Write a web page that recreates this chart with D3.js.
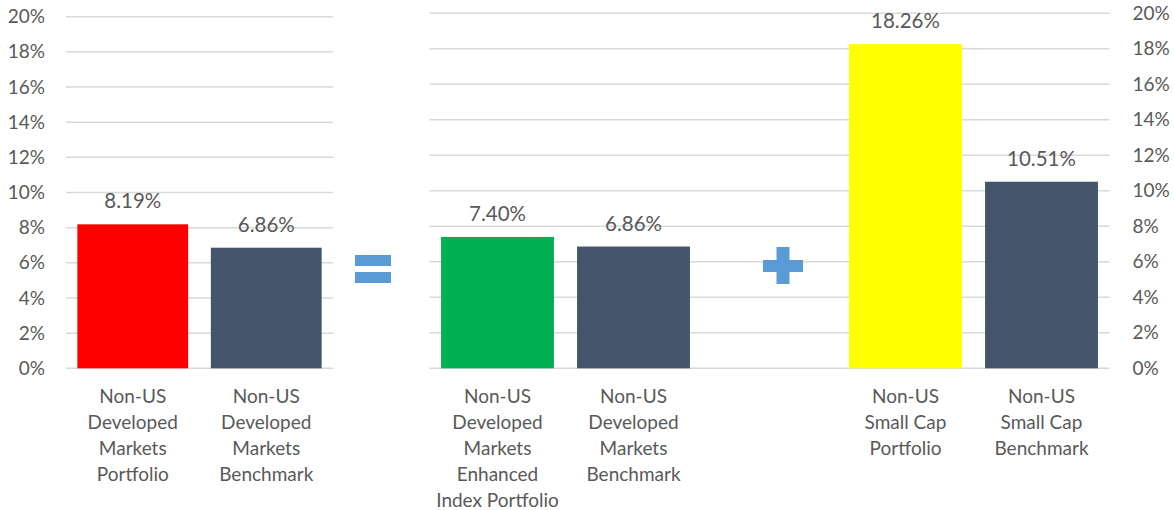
<!DOCTYPE html>
<html>
<head>
<meta charset="utf-8">
<script src="https://cdn.jsdelivr.net/npm/d3@7"></script>
<style>
  body { margin: 0; background: #fff; }
  text { font-family: Lato, "Open Sans", sans-serif; fill: #595959; }
</style>
</head>
<body>
<div class="content"></div>
<script>
// data
const leftCats = ["dmPort", "dmBench"];
const leftLabels = [
  ["Non-US", "Developed", "Markets", "Portfolio"],
  ["Non-US", "Developed", "Markets", "Benchmark"]
];
const leftValues = [8.19, 6.86];
const leftColors = ["#FF0000", "#44546A"];

const rightCats = ["enhPort", "dmBench2", "gap", "scPort", "scBench"];
const rightLabels = [
  ["Non-US", "Developed", "Markets", "Enhanced", "Index Portfolio"],
  ["Non-US", "Developed", "Markets", "Benchmark"],
  [],
  ["Non-US", "Small Cap", "Portfolio"],
  ["Non-US", "Small Cap", "Benchmark"]
];
const rightValues = [7.40, 6.86, null, 18.26, 10.51];
const rightColors = ["#00B050", "#44546A", null, "#FFFF00", "#44546A"];

const yTicks = [0, 2, 4, 6, 8, 10, 12, 14, 16, 18, 20];

const width = 1174, height = 510;
const fontSize = 19;

const svg = d3.select('.content')
  .append('svg')
  .attr('width', width)
  .attr('height', height);

function drawPanel(cats, labels, values, colors, xRange, yRange, axisSide) {
  let x = d3.scaleBand()
    .domain(cats)
    .range(xRange)
    .paddingInner(0.17)
    .paddingOuter(0.085);

  let y = d3.scaleLinear()
    .domain([0, 20])
    .range(yRange);

  // gridlines
  svg.append("g")
    .selectAll("line")
    .data(yTicks)
    .enter().append("line")
    .attr("x1", xRange[0])
    .attr("x2", xRange[1])
    .attr("y1", d => y(d))
    .attr("y2", d => y(d))
    .attr("stroke", "#d9d9d9")
    .attr("stroke-width", 1.5);

  // y axis labels
  let axis = axisSide === "left"
    ? d3.axisLeft(y).tickValues(yTicks).tickFormat(d => d + "%").tickSize(0).tickPadding(21)
    : d3.axisRight(y).tickValues(yTicks).tickFormat(d => d + "%").tickSize(0).tickPadding(23);

  svg.append("g")
    .attr("transform", `translate(${axisSide === "left" ? xRange[0] : xRange[1]},0)`)
    .call(axis)
    .call(g => g.select('.domain').remove())
    .call(g => g.selectAll('text')
      .attr("font-family", "Lato, 'Open Sans', sans-serif")
      .attr("font-size", fontSize)
      .attr("fill", "#595959"));

  let rows = cats.map((c, i) => ({ cat: c, value: values[i], color: colors[i], lines: labels[i] }));
  let bars = rows.filter(d => d.value != null);

  svg.selectAll(null)
    .data(bars)
    .enter().append("rect")
    .attr("x", d => x(d.cat))
    .attr("y", d => y(d.value))
    .attr("width", x.bandwidth())
    .attr("height", d => y(0) - y(d.value))
    .attr("fill", d => d.color);

  // value labels
  svg.selectAll(null)
    .data(bars)
    .enter().append("text")
    .attr("x", d => x(d.cat) + x.bandwidth() / 2)
    .attr("y", d => y(d.value))
    .attr("dy", -16)
    .attr("text-anchor", "middle")
    .attr("font-size", 20.5)
    .text(d => d.value.toFixed(2) + "%");

  // category labels
  let cl = svg.selectAll(null)
    .data(rows)
    .enter().append("text")
    .attr("text-anchor", "middle")
    .attr("font-size", fontSize)
    .attr("y", y(0) + 35);

  cl.selectAll("tspan")
    .data(d => d.lines.map(l => ({ l: l, cx: x(d.cat) + x.bandwidth() / 2 })))
    .enter().append("tspan")
    .attr("x", d => d.cx)
    .attr("dy", (d, i) => i === 0 ? 0 : 26)
    .text(d => d.l);

  return { x, y };
}

let left = drawPanel(leftCats, leftLabels, leftValues, leftColors, [66, 333], [368.3, 16.7], "left");
let right = drawPanel(rightCats, rightLabels, rightValues, rightColors, [429.5, 1109.5], [368.3, 13.3], "right");

// "=" sign between panels
const opColor = "#5B9BD5";
const eq = svg.append("g");
eq.append("rect").attr("x", 355).attr("y", 255).attr("width", 36).attr("height", 11).attr("fill", opColor);
eq.append("rect").attr("x", 355).attr("y", 272).attr("width", 36).attr("height", 11).attr("fill", opColor);

// "+" sign in the empty category
const plusCx = right.x("gap") + right.x.bandwidth() / 2 + 13.5;
const plus = svg.append("g");
plus.append("rect").attr("x", plusCx - 20).attr("y", 260).attr("width", 40).attr("height", 12).attr("fill", opColor);
plus.append("rect").attr("x", plusCx - 6.5).attr("y", 247).attr("width", 13).attr("height", 37).attr("fill", opColor);
</script>
</body>
</html>
